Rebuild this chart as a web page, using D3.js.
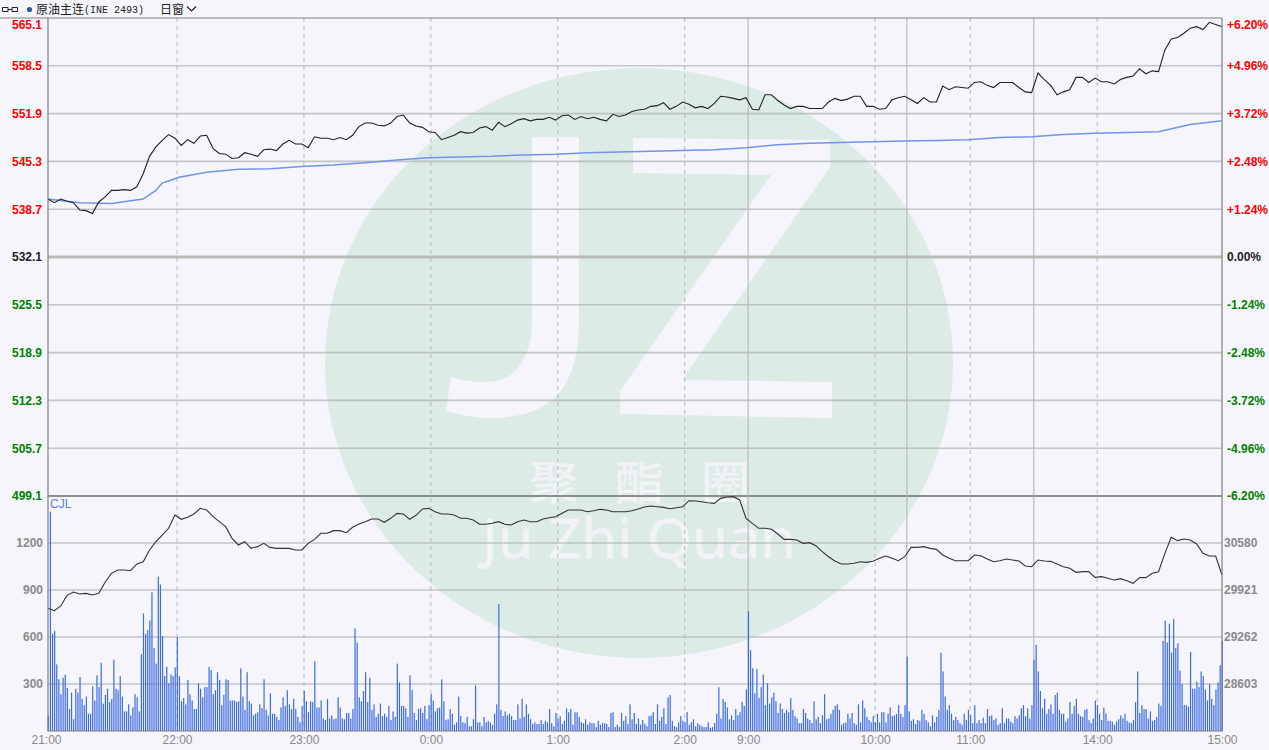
<!DOCTYPE html>
<html>
<head>
<meta charset="utf-8">
<script src="https://cdn.jsdelivr.net/npm/d3@7"></script>
<style>
html, body { margin: 0; padding: 0; background: #f5f5fb; overflow: hidden; }
svg { display: block; }
</style>
</head>
<body>
<div id="chart"></div>
<script>
// session labels and the minute index each one sits on
const timeLabels = ["21:00","22:00","23:00","0:00","1:00","2:00","9:00","10:00","11:00","14:00","15:00"]
const timeIndex = [0,61,121,181,241,301,331,391,436,496,555]
const breakIndex = [331,406,466]
const dashIndex = [61,121,181,241,301,391,436,496]

const priceTicks = [565.1,558.5,551.9,545.3,538.7,532.1,525.5,518.9,512.3,505.7,499.1]
const percentLabels = ["+6.20%","+4.96%","+3.72%","+2.48%","+1.24%","0.00%","-1.24%","-2.48%","-3.72%","-4.96%","-6.20%"]
const volumeTicks = [300,600,900,1200]
const holdingTicks = [28603,29262,29921,30580]

// close price, one value every 3 minutes
const closePrice = [540.1,539.6,540.1,539.8,539.6,538.6,538.5,538.1,539.7,540.4,541.3,541.3,541.4,541.3,541.8,543.6,546,547.3,548.2,549,548.5,547.5,548.3,547.8,548.8,548.9,547.1,546.4,546.3,545.7,545.8,546.5,546.3,546,546.9,547,546.8,547.7,548.2,547.7,547.7,547.2,548.7,
548.5,548.5,548.3,548.6,548.3,548.9,550.1,550.6,550.6,550.3,550.2,550.6,551.5,551.7,550.6,550.2,550,549.4,549.3,548.3,548.6,548.9,549.4,549.2,549.3,549.9,550.1,549.6,550.7,550.1,550.5,551,551.2,550.9,551.1,551.1,551.4,551,551.6,551.7,551.1,551.5,551.2,551.4,551.1,550.9,551.8,551.5,551.7,552.2,552.4,
552.5,552.9,553,553.4,552.5,552.9,553.5,553.2,552.7,552.9,552.6,553.3,554.3,554.2,554,553.8,554.1,552.5,552.4,554.5,554.5,553.7,553.1,552.6,552.9,552.9,552.6,552.6,552.6,553.5,554,553.7,553.9,554.3,554.3,552.9,552.9,552.5,552.6,553.8,554.1,554.3,553.8,553.3,554.1,553.5,553.5,555.7,555.2,555.6,
555.5,555.4,556.2,556.3,555.8,555.5,556.2,556.2,556.2,555.5,554.9,554.8,557.5,556.6,555.8,554.5,554.9,555.2,556.9,556.9,556.2,556.8,556.3,556.3,556,556.6,556.9,557.1,558.1,557.4,557.8,557.7,560.7,562.2,562.4,563,563.7,563.9,563.5,564.5,564.2,563.9]

// average price and the minute index of each reading
const avgIndex = [0,15,30,45,51,54,58,62,75,90,105,120,135,150,165,180,195,210,225,240,255,270,285,300,315,330,345,360,375,390,405,420,435,450,465,480,495,510,525,540,555]
const avgPrice = [540.1,539.6,539.5,540.1,541.3,542.3,542.7,543.1,543.8,544.2,544.3,544.6,544.8,545.1,545.5,545.8,545.9,546,546.2,546.3,546.5,546.6,546.7,546.8,546.9,547.2,547.6,547.8,547.9,548,548.1,548.2,548.3,548.6,548.7,549,549.2,549.3,549.4,550.4,550.9]

// open interest, one value every 3 minutes
const holdings = [29664,29631,29697,29846,29893,29865,29874,29851,29874,30029,30155,30202,30202,30192,30286,30318,30482,30599,30692,30786,30973,30912,30940,30987,31066,31043,30949,30879,30809,30645,30552,30599,30505,30529,30575,30519,30505,30505,30505,30482,30482,30575,30631,
30716,30716,30753,30753,30725,30800,30846,30879,30916,30916,30870,30926,30996,30987,30912,30968,31057,31066,31019,30987,30987,30973,30926,30926,30902,30842,30842,30856,30879,30842,30832,30879,30902,30879,30879,30916,30935,30949,30996,31043,31043,31043,31019,31033,31052,31043,31019,31019,31019,31033,31057,
31085,31099,31089,31080,31061,31075,31089,31173,31169,31159,31145,31136,31206,31225,31230,31183,30926,30856,30786,30786,30772,30706,30631,30631,30622,30575,30585,30543,30458,30388,30328,30286,30286,30295,30318,30309,30323,30365,30398,30365,30332,30388,30519,30519,30529,30505,30491,30412,30365,30332,
30332,30332,30412,30402,30356,30318,30332,30356,30342,30328,30258,30248,30342,30328,30323,30286,30248,30225,30169,30178,30178,30099,30108,30085,30061,30080,30052,30015,30094,30094,30155,30178,30435,30659,30613,30636,30622,30566,30435,30398,30398,30131]

// volume, one bar per minute
const volumes = [95,1400,620,640,425,330,235,340,360,275,140,245,75,270,245,345,205,165,220,110,110,285,195,355,280,435,175,230,270,185,205,455,270,260,350,220,125,125,170,100,150,235,215,125,490,750,620,645,705,885,530,430,985,935,605,350,410,305,360,350,405,600,350,190,210,170,325,235,195,140,140,305,270,215,280,280,410,390,235,260,375,325,165,230,330,325,195,195,195,185,190,400,220,135,375,190,175,100,110,120,170,145,330,135,100,240,110,110,90,70,150,215,160,260,170,140,205,140,90,55,160,255,190,120,190,185,445,150,150,
195,80,70,205,80,100,75,80,215,150,80,75,115,115,80,140,655,565,215,190,255,375,185,340,135,170,90,110,175,95,110,90,160,70,125,90,430,310,160,160,145,90,355,260,115,70,140,145,115,160,75,165,235,195,125,145,150,330,190,70,75,140,110,40,55,220,95,55,50,90,30,30,75,290,55,55,30,90,55,65,55,40,110,170,810,135,95,125,100,110,95,70,70,170,80,205,90,170,110,75,45,55,45,45,70,45,65,55,140,50,30,115,80,95,45,65,145,120,140,40,120,120,90,55,50,75,40,55,50,50,25,65,40,50,50,45,25,115,120,25,40,25,115,65,95,45,170,75,115,45,80,40,
70,45,30,95,100,120,45,170,65,90,145,45,215,230,65,30,25,55,95,65,55,120,40,55,75,30,50,40,30,25,25,55,20,25,50,110,280,80,205,185,150,75,100,70,140,100,120,185,160,265,765,515,400,240,395,210,280,360,165,305,175,215,245,190,115,175,140,115,135,120,210,135,95,80,50,50,140,115,80,70,50,190,75,90,50,100,235,75,80,110,135,160,170,135,40,50,55,110,80,115,50,40,170,55,195,145,90,70,55,95,55,110,55,120,120,55,110,150,95,100,110,165,110,90,165,475,125,65,75,45,70,65,135,110,70,55,30,100,55,90,135,500,380,220,135,165,110,70,90,70,
50,40,110,70,135,100,50,165,50,70,50,85,50,140,95,100,70,80,40,50,145,50,80,80,60,50,95,80,100,145,165,95,145,80,165,455,550,380,255,145,205,110,140,170,110,230,245,135,110,110,60,80,185,110,160,205,110,95,90,135,140,70,50,80,195,165,110,70,150,110,65,65,60,40,60,75,100,80,110,65,55,50,70,185,380,115,165,140,140,80,125,65,70,90,175,160,575,705,565,685,500,715,530,560,385,300,165,165,155,505,270,270,315,280,380,350,265,195,300,205,165,265,310,420,575]

const width = 1269, height = 750
const plotLeft = 48, plotRight = 1222, plotTop = 18, plotMid = 496, plotBottom = 731

const svg = d3.select("#chart").append("svg").attr("width", width).attr("height", height)

const x = d3.scaleLinear().domain([0, 555]).range([plotLeft, plotRight])
const yPrice = d3.scaleLinear().domain([499.1, 565.1]).range([plotMid, plotTop])
const yVolume = d3.scaleLinear().domain([0, 1200]).range([plotBottom, 543])
const yHolding = d3.scaleLinear().domain([27944, 30580]).range([plotBottom, 543])

// watermark
const mark = svg.append("g")
mark.append("ellipse").attr("cx", 639).attr("cy", 363).attr("rx", 314).attr("ry", 295).attr("fill", "#dcebe6")
const glyphJ = "M532,137L579,137L579,325C579,345 575,370 563,388C550,408 525,418 490,418C475,418 460,415 446,411L451,377C462,380 472,382 483,382C498,382 510,378 518,368C527,356 532,340 532,325Z"
const glyphZ = "M633,138L830,140L830,167L682,380L832,382L832,418L620,414L620,391L771,175L633,173Z"
mark.append("path").attr("d", glyphJ).attr("fill", "#f5f5fb")
mark.append("path").attr("d", glyphZ).attr("fill", "#f5f5fb")
mark.selectAll(".cn").data(["聚","酯","圈"]).enter().append("text")
    .attr("x", (d, i) => 529 + i * 86)
    .attr("y", 499)
    .attr("font-family", "'Noto Sans CJK SC'")
    .attr("font-size", 46)
    .attr("font-weight", 500)
    .attr("textLength", 49)
    .attr("lengthAdjust", "spacingAndGlyphs")
    .attr("fill", "#f1f3f6")
    .text(d => d)
mark.append("text")
    .attr("x", 482).attr("y", 558)
    .attr("font-family", "'Noto Sans', sans-serif")
    .attr("font-size", 54)
    .attr("textLength", 314)
    .attr("lengthAdjust", "spacingAndGlyphs")
    .attr("fill", "#f1f3f6")
    .attr("stroke", "#f1f3f6")
    .attr("stroke-width", 0.6)
    .text("Ju Zhi Quan")

// horizontal grid
const grid = svg.append("g")
grid.selectAll(".gp").data(priceTicks.slice(1)).enter().append("line")
    .attr("x1", plotLeft).attr("x2", plotRight)
    .attr("y1", d => yPrice(d)).attr("y2", d => yPrice(d))
    .attr("stroke", d => d == 499.1 ? "#87908c" : d == 532.1 ? "#b8bcb8" : "#a8acac")
    .attr("stroke-opacity", d => d == 499.1 || d == 532.1 ? 1 : 0.65)
    .attr("stroke-width", d => d == 532.1 ? 3 : d == 499.1 ? 2 : 1.6)
grid.selectAll(".gv").data(volumeTicks).enter().append("line")
    .attr("x1", plotLeft).attr("x2", plotRight)
    .attr("y1", d => yVolume(d)).attr("y2", d => yVolume(d))
    .attr("stroke", "#a8acac").attr("stroke-opacity", 0.65).attr("stroke-width", 1.6)

// vertical grid
grid.selectAll(".dash").data(dashIndex).enter().append("line")
    .attr("x1", d => x(d)).attr("x2", d => x(d))
    .attr("y1", plotTop).attr("y2", plotBottom)
    .attr("stroke", "#b5b8b8").attr("stroke-dasharray", "4,4")
grid.selectAll(".solid").data(breakIndex).enter().append("line")
    .attr("x1", d => x(d)).attr("x2", d => x(d))
    .attr("y1", plotTop).attr("y2", plotBottom)
    .attr("stroke", "#b5b9b8").attr("stroke-opacity", 0.8).attr("stroke-width", 1.4)

// volume bars
svg.append("g").selectAll("rect").data(volumes).enter().append("rect")
    .attr("x", (d, i) => x(i) - 0.3)
    .attr("width", 1.2)
    .attr("y", d => yVolume(d))
    .attr("height", d => yVolume(0) - yVolume(d))
    .attr("fill", "#3c6be2")

// lines
const closeLine = d3.line().x((d, i) => x(i * 3)).y(d => yPrice(d))
const avgLine = d3.line().x((d, i) => x(avgIndex[i])).y(d => yPrice(d))
const holdingLine = d3.line().x((d, i) => x(i * 3)).y(d => yHolding(d))

svg.append("path").attr("d", avgLine(avgPrice)).attr("fill", "none").attr("stroke", "#6f94ea").attr("stroke-width", 1.5)
svg.append("path").attr("d", closeLine(closePrice)).attr("fill", "none").attr("stroke", "#222").attr("stroke-width", 1.1)
svg.append("path").attr("d", holdingLine(holdings)).attr("fill", "none").attr("stroke", "#333").attr("stroke-width", 1.1)

// axes
function styleAxis(g, color) {
    g.select(".domain").remove()
    g.selectAll(".tick line").remove()
    g.selectAll("text")
        .attr("font-family", "'Liberation Sans', Arial, sans-serif")
        .attr("font-size", 12)
        .attr("font-weight", "bold")
        .attr("fill", color)
}
function priceColor(d) {
    return d > 532.1 ? "#f00" : d < 532.1 ? "#008000" : "#222"
}

const leftAxis = svg.append("g").attr("transform", "translate(" + (plotLeft - 6) + ",0)")
    .call(d3.axisLeft(yPrice).tickValues(priceTicks).tickFormat(d3.format(".1f")).tickSize(0).tickPadding(0))
styleAxis(leftAxis, "#000")
leftAxis.selectAll("text").attr("fill", priceColor)
leftAxis.selectAll(".tick").filter(d => d == 565.1).select("text").attr("dy", "0.9em")

const rightAxis = svg.append("g").attr("transform", "translate(" + (plotRight + 5) + ",0)")
    .call(d3.axisRight(yPrice).tickValues(priceTicks).tickFormat((d, i) => percentLabels[i]).tickSize(0).tickPadding(0))
styleAxis(rightAxis, "#000")
rightAxis.selectAll("text").attr("fill", priceColor)
rightAxis.selectAll(".tick").filter(d => d == 565.1).select("text").attr("dy", "0.9em")

const volAxis = svg.append("g").attr("transform", "translate(" + (plotLeft - 5) + ",0)")
    .call(d3.axisLeft(yVolume).tickValues(volumeTicks).tickFormat(d3.format("d")).tickSize(0).tickPadding(0))
styleAxis(volAxis, "#8a8a8a")

const holdAxis = svg.append("g").attr("transform", "translate(" + (plotRight + 2) + ",0)")
    .call(d3.axisRight(yHolding).tickValues(holdingTicks).tickFormat(d3.format("d")).tickSize(0).tickPadding(0))
styleAxis(holdAxis, "#8a8a8a")

const timeAxis = svg.append("g").attr("transform", "translate(0," + plotBottom + ")")
    .call(d3.axisBottom(x).tickValues(timeIndex).tickFormat((d, i) => timeLabels[i]).tickSize(0).tickPadding(4))
styleAxis(timeAxis, "#8a8a8a")
timeAxis.selectAll("text").attr("font-weight", "normal")
timeAxis.selectAll(".tick").filter(d => d == 0).select("text").attr("dx", -2)

// frame
svg.append("path")
    .attr("d", "M" + plotLeft + "," + plotTop + "H" + plotRight + "V" + plotBottom + "H" + plotLeft + "Z")
    .attr("fill", "none").attr("stroke", "#808080").attr("stroke-width", 1.2)
svg.append("line").attr("x1", 0).attr("x2", plotLeft).attr("y1", plotTop).attr("y2", plotTop).attr("stroke", "#808080")

svg.append("text").attr("x", 50).attr("y", 508)
    .attr("font-family", "'Liberation Sans', sans-serif").attr("font-size", 12)
    .attr("fill", "#5b82e6").text("CJL")

// header
const head = svg.append("g")
head.append("path").attr("d", "M2.5,7.5H8V11.5H2.5ZM8,9.5H12M12,7.5H17.5V11.5H12Z").attr("fill", "none").attr("stroke", "#222").attr("stroke-width", 1)
head.append("circle").attr("cx", 29.5).attr("cy", 9.5).attr("r", 2.6).attr("fill", "#2f5caa")
head.append("text").attr("x", 36).attr("y", 13.5)
    .attr("font-family", "'Noto Sans CJK SC'").attr("font-size", 12).attr("fill", "#222").text("原油主连")
head.append("text").attr("x", 84).attr("y", 13)
    .attr("font-family", "'Liberation Mono', monospace").attr("font-size", 10).attr("fill", "#222").text("(INE 2493)")
head.append("text").attr("x", 160).attr("y", 13.5)
    .attr("font-family", "'Noto Sans CJK SC'").attr("font-size", 12).attr("fill", "#222").text("日窗")
head.append("path").attr("d", "M187,6.5L191.5,11L196,6.5").attr("fill", "none").attr("stroke", "#222").attr("stroke-width", 1.2)
</script>
</body>
</html>
